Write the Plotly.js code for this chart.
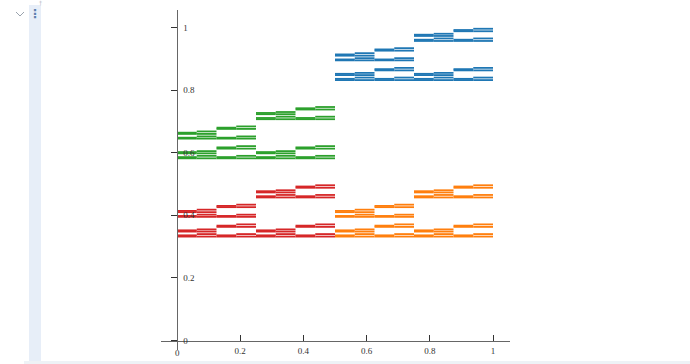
<!DOCTYPE html>
<html>
<head>
<meta charset="utf-8">
<script src="https://cdn.plot.ly/plotly-3.0.1.min.js"></script>
<style>
html,body{margin:0;padding:0;background:#fff;width:690px;height:364px;overflow:hidden;}
#chev{position:absolute;left:14px;top:8px;width:12px;height:12px;z-index:5;}
#strip{position:absolute;left:29px;top:5px;width:12px;height:359px;background:#e7eef8;z-index:5;}
#dots{position:absolute;left:29px;top:7px;width:12px;text-align:center;font:bold 12px "DejaVu Sans";color:#5b7fae;z-index:6;}
#mark{position:absolute;left:39px;top:0px;font:6px/6px "DejaVu Sans";color:#b8bec6;z-index:6;}
#bottomline{position:absolute;left:24px;top:361px;width:666px;height:3px;background:#eef2f6;z-index:5;}
#plot{position:absolute;left:0;top:0;width:690px;height:364px;z-index:1;}
</style>
</head>
<body>
<div id="plot"></div>
<svg id="chev" viewBox="0 0 12 12"><polyline points="2,4 6,8 10,4" fill="none" stroke="#9aa3ad" stroke-width="1"/></svg>
<div id="strip"></div>
<div id="dots">&#8942;</div>
<div id="mark">&#8224;</div>
<div id="bottomline"></div>
<script>
// x edges of the finest segments
const xEdges = [0,0.0625,0.125,0.1875,0.25,0.3125,0.375,0.4375,0.5,0.5625,0.625,0.6875,0.75,0.8125,0.875,0.9375,1];
const tickVals = [0,0.2,0.4,0.6,0.8,1];
const tickText = ["0","0.2","0.4","0.6","0.8","1"];

// y levels of the segments in each x-interval (rows = intervals)
const redY = [
 [0.332,0.336,0.348,0.352,0.395,0.398,0.410,0.414],
 [0.332,0.340,0.348,0.355,0.395,0.402,0.410,0.418],
 [0.332,0.336,0.363,0.367,0.395,0.398,0.426,0.430],
 [0.332,0.340,0.363,0.371,0.395,0.402,0.426,0.434],
 [0.332,0.336,0.348,0.352,0.457,0.461,0.473,0.477],
 [0.332,0.340,0.348,0.355,0.457,0.465,0.473,0.480],
 [0.332,0.336,0.363,0.367,0.457,0.461,0.488,0.492],
 [0.332,0.340,0.363,0.371,0.457,0.465,0.488,0.496]
];
const greenY = [
 [0.582,0.586,0.598,0.602,0.645,0.648,0.660,0.664],
 [0.582,0.590,0.598,0.605,0.645,0.652,0.660,0.668],
 [0.582,0.586,0.613,0.617,0.645,0.648,0.676,0.680],
 [0.582,0.590,0.613,0.621,0.645,0.652,0.676,0.684],
 [0.582,0.586,0.598,0.602,0.707,0.711,0.723,0.727],
 [0.582,0.590,0.598,0.605,0.707,0.715,0.723,0.730],
 [0.582,0.586,0.613,0.617,0.707,0.711,0.738,0.742],
 [0.582,0.590,0.613,0.621,0.707,0.715,0.738,0.746]
];
const orangeY = [
 [0.332,0.336,0.348,0.352,0.395,0.398,0.410,0.414],
 [0.332,0.340,0.348,0.355,0.395,0.402,0.410,0.418],
 [0.332,0.336,0.363,0.367,0.395,0.398,0.426,0.430],
 [0.332,0.340,0.363,0.371,0.395,0.402,0.426,0.434],
 [0.332,0.336,0.348,0.352,0.457,0.461,0.473,0.477],
 [0.332,0.340,0.348,0.355,0.457,0.465,0.473,0.480],
 [0.332,0.336,0.363,0.367,0.457,0.461,0.488,0.492],
 [0.332,0.340,0.363,0.371,0.457,0.465,0.488,0.496]
];
const blueY = [
 [0.832,0.836,0.848,0.852,0.895,0.898,0.910,0.914],
 [0.832,0.840,0.848,0.855,0.895,0.902,0.910,0.918],
 [0.832,0.836,0.863,0.867,0.895,0.898,0.926,0.930],
 [0.832,0.840,0.863,0.871,0.895,0.902,0.926,0.934],
 [0.832,0.836,0.848,0.852,0.957,0.961,0.973,0.977],
 [0.832,0.840,0.848,0.855,0.957,0.965,0.973,0.980],
 [0.832,0.836,0.863,0.867,0.957,0.961,0.988,0.992],
 [0.832,0.840,0.863,0.871,0.957,0.965,0.988,0.996]
];

function segTrace(rows, firstInterval, color){
  const xs=[], ys=[];
  rows.forEach((row,i)=>{
    const k = firstInterval + i;
    row.forEach(y=>{
      xs.push(xEdges[k], xEdges[k+1], null);
      ys.push(y, y, null);
    });
  });
  return {type:'scatter', mode:'lines', x:xs, y:ys, hoverinfo:'skip',
          line:{color:color, width:1.8}, showlegend:false};
}

const data = [
  segTrace(blueY, 8, '#1f77b4'),
  segTrace(orangeY, 8, '#ff7f0e'),
  segTrace(greenY, 0, '#2ca02c'),
  segTrace(redY, 0, '#d62728')
];

const L=161, R=510, T=10, B=350;
const x0px=177, xUnit=316, y0px=340.5, yUnit=313;
const xr=[(L-x0px)/xUnit, (R-x0px)/xUnit];
const yr=[-(B-y0px)/yUnit, (y0px-T)/yUnit];
const tickFont={family:'Liberation Serif, Times New Roman, serif', size:9, color:'#333'};

const layout = {
  width:690, height:364,
  margin:{l:L, r:690-R, t:T, b:364-B, autoexpand:false},
  paper_bgcolor:'#ffffff', plot_bgcolor:'#ffffff',
  xaxis:{range:xr, showgrid:false, zeroline:false, showline:true, linecolor:'#666', linewidth:1,
         anchor:'free', position:(B-y0px)/(B-T), ticks:'inside', ticklen:6, tickcolor:'#333',
         ticklabelstandoff:2,
         tickvals:tickVals, ticktext:tickText, tickfont:tickFont, automargin:false, fixedrange:true},
  yaxis:{range:yr, showgrid:false, zeroline:false, showline:true, linecolor:'#666', linewidth:1,
         anchor:'free', position:(x0px-L)/(R-L), ticks:'outside', ticklen:6, tickcolor:'#333',
         ticklabelposition:'inside', ticklabelstandoff:4, tickvals:tickVals, ticktext:tickText, tickfont:tickFont,
         automargin:false, fixedrange:true},
  annotations:[{x:tickVals[0], y:0, xref:'x', yref:'y', text:tickText[0], showarrow:false,
                yshift:-12, font:tickFont}]
};
Plotly.newPlot('plot', data, layout, {displayModeBar:false, staticPlot:true});
</script>
</body>
</html>
